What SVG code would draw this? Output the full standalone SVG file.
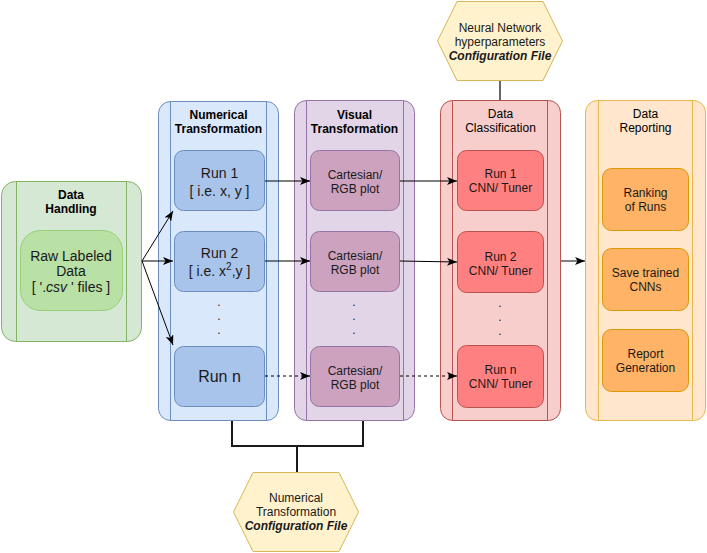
<svg xmlns="http://www.w3.org/2000/svg" width="707" height="553" viewBox="0 0 707 553">
<defs>
<marker id="arr" viewBox="0 0 10 8" refX="10" refY="4" markerWidth="10" markerHeight="8" markerUnits="userSpaceOnUse" orient="auto">
<path d="M0,0 L10,4 L0,8 L2.5,4 z" fill="#000"/>
</marker>
</defs>
<style>
text{font-family:"Liberation Sans",Arial,sans-serif;text-anchor:middle;fill:#1a1a1a}
.t{font-size:12px;fill:#000}
.b{font-weight:bold}
.s14{font-size:14px}
.s12{font-size:12px}
.d{font-size:12px}
.bi{font-weight:bold;font-style:italic}
.c{stroke:#000;stroke-width:1;fill:none}
</style>
<rect width="707" height="553" fill="#fff"/>

<g id="data-handling">
<rect x="1.5" y="181.5" width="140" height="160" rx="14" fill="#d5e8d4" stroke="#82b366"/>
<line x1="16.5" y1="181.5" x2="16.5" y2="341.5" stroke="#82b366"/>
<line x1="126.5" y1="181.5" x2="126.5" y2="341.5" stroke="#82b366"/>
<text class="t b" x="71" y="199">Data</text>
<text class="t b" x="71" y="213">Handling</text>
</g>
<g id="raw-data">
<rect x="20.5" y="230.5" width="102" height="80" rx="20" fill="#b9e0a5" stroke="#97d077"/>
<text class="s14" x="71" y="261">Raw Labeled</text>
<text class="s14" x="71" y="276">Data</text>
<text class="s14" x="71" y="292">[ '.<tspan font-style="italic">csv</tspan> ' files ]</text>
</g>

<g id="numerical-transformation">
<rect x="158.5" y="101.5" width="120" height="319" rx="12" fill="#dae8fc" stroke="#6c8ebf"/>
<line x1="170.5" y1="101.5" x2="170.5" y2="420.5" stroke="#6c8ebf"/>
<line x1="266.5" y1="101.5" x2="266.5" y2="420.5" stroke="#6c8ebf"/>
<text class="t b" x="218.5" y="119">Numerical</text>
<text class="t b" x="218.5" y="133">Transformation</text>
</g>
<g id="run1">
<rect x="174.5" y="150.5" width="90" height="60" rx="9" fill="#a9c4eb" stroke="#6c8ebf"/>
<text class="s14" x="219.5" y="178">Run 1</text>
<text class="s14" x="219.5" y="196">[ i.e. x, y ]</text>
</g>
<g id="run2">
<rect x="174.5" y="231.5" width="90" height="60" rx="9" fill="#a9c4eb" stroke="#6c8ebf"/>
<text class="s14" x="219.5" y="258">Run 2</text>
<text class="s14" x="219.5" y="276">[ i.e. x<tspan font-size="10" dy="-6">2</tspan><tspan dy="6">,y ]</tspan></text>
</g>
<g id="num-dots">
<text class="d" x="219" y="306">.</text>
<text class="d" x="219" y="320">.</text>
<text class="d" x="219" y="334">.</text>
</g>
<g id="runn">
<rect x="174.5" y="346.5" width="90" height="60" rx="9" fill="#a9c4eb" stroke="#6c8ebf"/>
<text x="219.5" y="382" font-size="16">Run n</text>
</g>

<g id="visual-transformation">
<rect x="294.5" y="100.5" width="120" height="320" rx="12" fill="#e1d5e7" stroke="#9673a6"/>
<line x1="306.5" y1="100.5" x2="306.5" y2="420.5" stroke="#9673a6"/>
<line x1="403.5" y1="100.5" x2="403.5" y2="420.5" stroke="#9673a6"/>
<text class="t b" x="354.5" y="119">Visual</text>
<text class="t b" x="354.5" y="133">Transformation</text>
</g>
<g id="plot1">
<rect x="310.5" y="150.5" width="89" height="60" rx="9" fill="#cda2be" stroke="#9673a6"/>
<text class="s12" x="355" y="179">Cartesian/</text>
<text class="s12" x="355" y="193">RGB plot</text>
</g>
<g id="plot2">
<rect x="310.5" y="231.5" width="89" height="60" rx="9" fill="#cda2be" stroke="#9673a6"/>
<text class="s12" x="355" y="260">Cartesian/</text>
<text class="s12" x="355" y="274">RGB plot</text>
</g>
<g id="vis-dots">
<text class="d" x="354" y="306">.</text>
<text class="d" x="354" y="320">.</text>
<text class="d" x="354" y="334">.</text>
</g>
<g id="plotn">
<rect x="310.5" y="346.5" width="89" height="60" rx="9" fill="#cda2be" stroke="#9673a6"/>
<text class="s12" x="355" y="375">Cartesian/</text>
<text class="s12" x="355" y="389">RGB plot</text>
</g>

<g id="data-classification">
<rect x="440.5" y="100.5" width="120" height="320" rx="12" fill="#f8cecc" stroke="#b85450"/>
<line x1="452.5" y1="100.5" x2="452.5" y2="420.5" stroke="#b85450"/>
<line x1="547.5" y1="100.5" x2="547.5" y2="420.5" stroke="#b85450"/>
<text class="t" x="500.5" y="118">Data</text>
<text class="t" x="500.5" y="132">Classification</text>
</g>
<g id="cnn1">
<rect x="457.5" y="150.5" width="86" height="60" rx="9" fill="#ff8080" stroke="#b85450"/>
<text class="s12" x="500.5" y="178">Run 1</text>
<text class="s12" x="500.5" y="192">CNN/ Tuner</text>
</g>
<g id="cnn2">
<rect x="457.5" y="231.5" width="86" height="61" rx="9" fill="#ff8080" stroke="#b85450"/>
<text class="s12" x="500.5" y="261">Run 2</text>
<text class="s12" x="500.5" y="275">CNN/ Tuner</text>
</g>
<g id="cls-dots">
<text class="d" x="500" y="307">.</text>
<text class="d" x="500" y="321">.</text>
<text class="d" x="500" y="335">.</text>
</g>
<g id="cnnn">
<rect x="457.5" y="345.5" width="86" height="62" rx="9" fill="#ff8080" stroke="#b85450"/>
<text class="s12" x="500.5" y="374">Run n</text>
<text class="s12" x="500.5" y="388">CNN/ Tuner</text>
</g>

<g id="data-reporting">
<rect x="585.5" y="100.5" width="120" height="320" rx="12" fill="#ffe6cc" stroke="#e6b84d"/>
<line x1="598.5" y1="100.5" x2="598.5" y2="420.5" stroke="#e6b84d"/>
<line x1="692.5" y1="100.5" x2="692.5" y2="420.5" stroke="#e6b84d"/>
<text class="t" x="645.5" y="118">Data</text>
<text class="t" x="645.5" y="132">Reporting</text>
</g>
<g id="ranking">
<rect x="602.5" y="168.5" width="86" height="62" rx="9" fill="#ffb366" stroke="#d79b00"/>
<text class="s12" x="645.5" y="197">Ranking</text>
<text class="s12" x="645.5" y="211">of Runs</text>
</g>
<g id="save">
<rect x="602.5" y="248.5" width="86" height="62" rx="9" fill="#ffb366" stroke="#d79b00"/>
<text class="s12" x="645.5" y="277">Save trained</text>
<text class="s12" x="645.5" y="291">CNNs</text>
</g>
<g id="report">
<rect x="602.5" y="329.5" width="86" height="62" rx="9" fill="#ffb366" stroke="#d79b00"/>
<text class="s12" x="645.5" y="358">Report</text>
<text class="s12" x="645.5" y="372">Generation</text>
</g>

<g id="nn-config">
<path d="M457,1.5 L543,1.5 L562.5,41 L543,80.5 L457,80.5 L437.5,41 Z" fill="#fff2cc" stroke="#d6b656" stroke-linejoin="round"/>
<text class="s12" x="500" y="32">Neural Network</text>
<text class="s12" x="500" y="46">hyperparameters</text>
<text class="s12 bi" x="500" y="60">Configuration File</text>
</g>
<g id="num-config">
<path d="M253,472.5 L339,472.5 L358.5,512 L339,551.5 L253,551.5 L233.5,512 Z" fill="#fff2cc" stroke="#d6b656" stroke-linejoin="round"/>
<text class="s12" x="296" y="502">Numerical</text>
<text class="s12" x="296" y="516">Transformation</text>
<text class="s12 bi" x="296" y="530">Configuration File</text>
</g>

<g id="connectors">
<line class="c" x1="142" y1="261" x2="173" y2="211" marker-end="url(#arr)"/>
<line class="c" x1="142" y1="261" x2="173" y2="261" marker-end="url(#arr)"/>
<line class="c" x1="142" y1="261" x2="173" y2="345" marker-end="url(#arr)"/>
<line class="c" x1="265" y1="181" x2="310" y2="181" marker-end="url(#arr)"/>
<line class="c" x1="265" y1="261" x2="310" y2="261" marker-end="url(#arr)"/>
<line class="c" x1="265" y1="376" x2="310" y2="376" stroke-dasharray="3,3" marker-end="url(#arr)"/>
<line class="c" x1="400" y1="181" x2="457" y2="181" marker-end="url(#arr)"/>
<line class="c" x1="400" y1="261" x2="457" y2="262" marker-end="url(#arr)"/>
<line class="c" x1="400" y1="376" x2="457" y2="376" stroke-dasharray="3,3" marker-end="url(#arr)"/>
<line class="c" x1="561" y1="261" x2="585" y2="261" marker-end="url(#arr)"/>
<line x1="500" y1="81" x2="500" y2="100" stroke="#666" stroke-width="2"/>
<polyline points="232,421 232,446 363,446 363,421" fill="none" stroke="#1a1a1a" stroke-width="2"/>
<line x1="297" y1="446" x2="297" y2="472" stroke="#1a1a1a" stroke-width="2"/>
</g>
</svg>
